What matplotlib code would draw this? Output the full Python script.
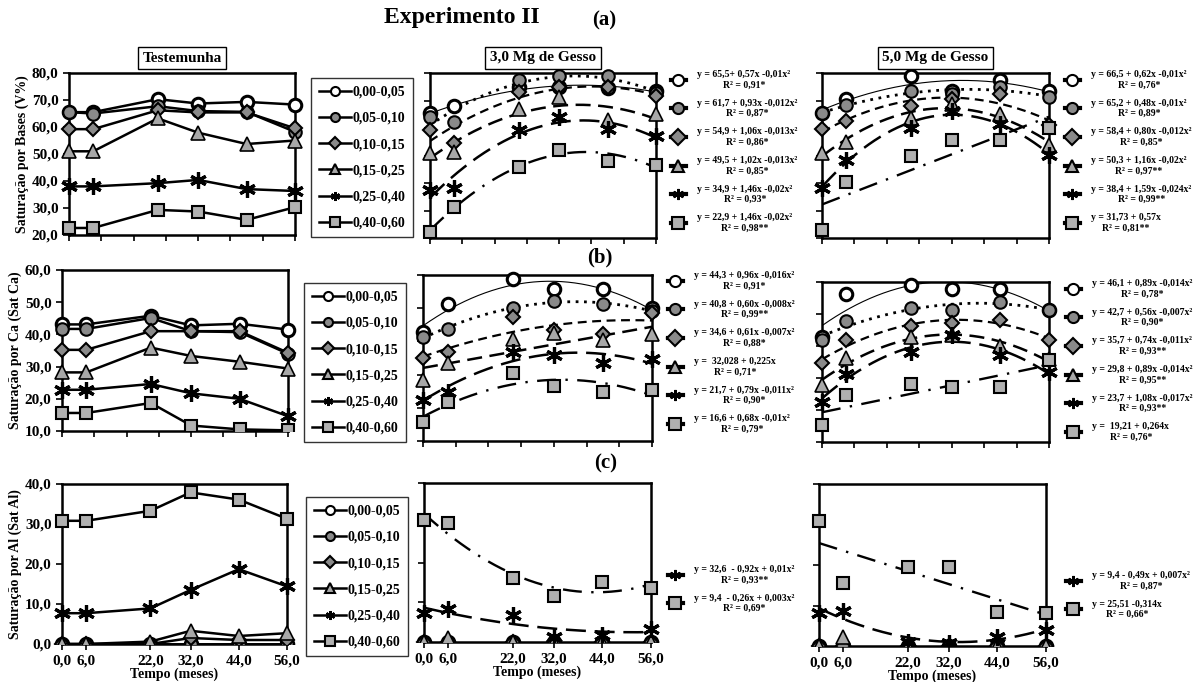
import numpy as np
import matplotlib
matplotlib.use('Agg')
import matplotlib.pyplot as plt
from matplotlib.lines import Line2D
from matplotlib.patches import Rectangle
from matplotlib.ticker import FuncFormatter, FixedLocator

plt.rcParams['font.family'] = ['Liberation Serif', 'DejaVu Serif']
plt.rcParams['font.weight'] = 'bold'

# ---------------- data ----------------
TIME = [0, 6, 22, 32, 44, 56]
LEVELS = ['0,00-0,05', '0,05-0,10', '0,10-0,15', '0,15-0,25', '0,25-0,40', '0,40-0,60']
PANEL_TITLES = ['Testemunha', '3,0 Mg de Gesso', '5,0 Mg de Gesso']
ROW_YLABELS = ['Saturação por Bases (V%)', 'Saturação por Ca (Sat Ca)', 'Saturação por Al (Sat Al)']
ROW_TAGS = ['(a)', '(b)', '(c)']
X_TICKS_LABELLED = [0, 6, 22, 32, 44, 56]
X_TICKS_PLAIN = [0, 8, 16, 24, 32, 40, 48, 56]

# Saturação por Bases (V%)
v_test = [[65.5, 65.5, 70.3, 68.7, 69.3, 68.3],
          [65.5, 65.0, 67.7, 65.9, 65.6, 58.2],
          [59.2, 59.2, 66.2, 65.4, 65.4, 59.5],
          [51.0, 51.0, 63.2, 57.9, 53.7, 55.0],
          [38.0, 38.0, 39.2, 40.4, 37.0, 36.3],
          [22.6, 22.6, 29.3, 28.7, 25.6, 30.3]]
v_g3 = [[65.3, 67.9, 75.0, 74.8, 74.6, 73.5],
        [64.0, 62.3, 77.3, 78.8, 78.8, 72.6],
        [59.3, 54.6, 73.0, 74.8, 74.8, 71.7],
        [50.9, 51.3, 66.9, 71.2, 62.9, 65.0],
        [37.4, 38.3, 59.2, 64.1, 59.6, 57.1],
        [22.3, 31.3, 46.0, 52.1, 48.1, 46.6]]
v_g5 = [[65.6, 70.6, 78.8, 73.6, 77.3, 73.4],
        [65.3, 68.5, 73.4, 72.4, 74.8, 71.2],
        [59.5, 62.6, 68.1, 70.6, 72.4, 61.0],
        [50.9, 55.0, 63.8, 68.7, 65.0, 54.0],
        [38.3, 48.5, 60.1, 66.3, 61.6, 50.3],
        [23.0, 40.5, 49.7, 55.5, 55.5, 60.1]]

# Saturação por Ca
ca_test = [[43.1, 43.1, 45.8, 42.8, 43.3, 41.5],
           [41.7, 41.7, 45.1, 41.0, 40.7, 34.0],
           [35.2, 35.2, 41.0, 41.0, 41.0, 34.3],
           [28.2, 28.2, 35.9, 33.3, 31.5, 29.4],
           [22.8, 22.8, 24.6, 21.7, 20.0, 14.6],
           [15.6, 15.6, 18.7, 11.7, 10.5, 10.2]]
ca_g3 = [[42.9, 51.4, 58.7, 55.7, 55.7, 50.0],
         [41.4, 43.6, 50.0, 52.3, 51.3, 49.2],
         [34.9, 36.9, 47.5, 43.5, 42.2, 48.5],
         [28.4, 33.6, 40.6, 42.4, 40.4, 42.1],
         [22.5, 24.9, 36.9, 35.9, 33.6, 34.6],
         [15.8, 21.8, 30.4, 26.6, 24.9, 25.4]]
ca_g5 = [[42.8, 56.1, 59.0, 57.9, 57.9, 51.4],
         [41.8, 47.8, 52.0, 51.4, 53.8, 51.4],
         [34.7, 41.8, 46.1, 47.2, 48.2, 42.0],
         [27.7, 36.4, 42.8, 43.3, 39.9, 36.0],
         [22.5, 31.4, 38.1, 43.3, 37.1, 31.9],
         [15.2, 24.6, 28.0, 27.2, 27.2, 35.7]]

# Saturação por Al
al_test = [[0, 0, 0, 0, 0, 0],
           [0, 0, 0, 0, 0, 0],
           [0, 0, 0, 1.5, 1.0, 1.0],
           [0, 0, 0.6, 3.3, 2.0, 2.7],
           [7.7, 7.7, 8.9, 13.5, 18.7, 14.4],
           [30.8, 30.8, 33.3, 37.9, 36.1, 31.3]]
al_g3 = [[0, 0, 0, 0, 0, 0],
         [0, 0, 0, 0, 0, 0],
         [0, 0, 0, 0, 0, 0],
         [0, 1.0, 0, 0, 0, 0],
         [7.4, 8.3, 6.8, 1.3, 1.8, 3.3],
         [30.6, 30.0, 16.2, 11.6, 15.2, 13.7]]
al_g5 = [[0, 0, 0, 0, 0, 0],
         [0, 0, 0, 0, 0, 0],
         [0, 0, 0, 0, 0, 0],
         [0, 2.3, 0, 0, 0, 0],
         [8.1, 8.7, 1.1, 0.7, 2.3, 4.0],
         [30.9, 15.5, 19.4, 19.4, 8.5, 8.2]]

# trend-line degree per series (None = no trend line)
deg_v_g3 = [2, 2, 2, 2, 2, 2]
deg_v_g5 = [2, 2, 2, 2, 2, 1]
deg_ca_g3 = [2, 2, 2, 1, 2, 2]
deg_ca_g5 = [2, 2, 2, 2, 2, 1]
deg_al_g3 = [None, None, None, None, 2, 2]
deg_al_g5 = [None, None, None, None, 2, 1]

eq_v_g3 = ['y = 65,5+ 0,57x -0,01x²\nR² = 0,91*',
           'y = 61,7 + 0,93x -0,012x²\nR² = 0,87*',
           'y = 54,9 + 1,06x -0,013x²\nR² = 0,86*',
           'y = 49,5 + 1,02x -0,013x²\nR² = 0,85*',
           'y = 34,9 + 1,46x -0,02x²\nR² = 0,93*',
           'y = 22,9 + 1,46x -0,02x²\nR² = 0,98**']
eq_v_g5 = ['y = 66,5 + 0,62x -0,01x²\nR² = 0,76*',
           'y = 65,2 + 0,48x -0,01x²\nR² = 0,89*',
           'y = 58,4 + 0,80x -0,012x²\nR² = 0,85*',
           'y = 50,3 + 1,16x -0,02x²\nR² = 0,97**',
           'y = 38,4 + 1,59x -0,024x²\nR² = 0,99**',
           'y = 31,73 + 0,57x\nR² = 0,81**']
eq_ca_g3 = ['y = 44,3 + 0,96x -0,016x²\nR² = 0,91*',
            'y = 40,8 + 0,60x -0,008x²\nR² = 0,99**',
            'y = 34,6 + 0,61x -0,007x²\nR² = 0,88*',
            'y =  32,028 + 0,225x\nR² = 0,71*',
            'y = 21,7 + 0,79x -0,011x²\nR² = 0,90*',
            'y = 16,6 + 0,68x -0,01x²\nR² = 0,79*']
eq_ca_g5 = ['y = 46,1 + 0,89x -0,014x²\nR² = 0,78*',
            'y = 42,7 + 0,56x -0,007x²\nR² = 0,90*',
            'y = 35,7 + 0,74x -0,011x²\nR² = 0,93**',
            'y = 29,8 + 0,89x -0,014x²\nR² = 0,95**',
            'y = 23,7 + 1,08x -0,017x²\nR² = 0,93**',
            'y =  19,21 + 0,264x\nR² = 0,76*']
eq_al_g3 = [None, None, None, None,
            'y = 32,6  - 0,92x + 0,01x²\nR² = 0,93**',
            'y = 9,4  - 0,26x + 0,003x²\nR² = 0,69*']
eq_al_g5 = [None, None, None, None,
            'y = 9,4 - 0,49x + 0,007x²\nR² = 0,87*',
            'y = 25,51 -0,314x\nR² = 0,66*']

YLIMS = [(20, 80), (10, 60), (0, 40)]

# ---------------- styles ----------------
MARK = [dict(marker='o', mfc='white', mec='black', ms=9, mew=2.2),
        dict(marker='o', mfc='#8a8a8a', mec='black', ms=9, mew=1.5),
        dict(marker='D', mfc='#8a8a8a', mec='black', ms=7.5, mew=1.5),
        dict(marker='^', mfc='#a8a8a8', mec='black', ms=10, mew=1.2),
        dict(marker=(6, 2, 0), mfc='black', mec='black', ms=12, mew=2.3),
        dict(marker='s', mfc='#b0b0b0', mec='black', ms=8.5, mew=1.5)]
FIT = [dict(ls='-', lw=0.8),
       dict(ls=(0, (1, 2)), lw=2.0),
       dict(ls=(0, (4, 2.5)), lw=1.6),
       dict(ls=(0, (6, 3)), lw=1.8),
       dict(ls=(0, (8, 3.5)), lw=1.8),
       dict(ls=(0, (8, 4, 1, 4)), lw=1.7)]

W, H = 1197, 682
fig = plt.figure(figsize=(W / 100, H / 100), dpi=100)


def add_ax(l, t, r, b):
    return fig.add_axes([l / W, 1 - b / H, (r - l) / W, (b - t) / H])


boxes = [[(69, 73, 295, 235), (430, 73, 656, 238), (822, 73, 1049, 238)],
         [(62, 270, 288, 431), (423, 275, 652, 441), (822, 282, 1049, 442)],
         [(62, 484, 287, 644), (424, 483, 651, 642), (819, 484, 1046, 646)]]

data = [[v_test, v_g3, v_g5], [ca_test, ca_g3, ca_g5], [al_test, al_g3, al_g5]]
degs = [[None, deg_v_g3, deg_v_g5], [None, deg_ca_g3, deg_ca_g5], [None, deg_al_g3, deg_al_g5]]
eqs = [[None, eq_v_g3, eq_v_g5], [None, eq_ca_g3, eq_ca_g5], [None, eq_al_g3, eq_al_g5]]

fmt = FuncFormatter(lambda v, p: f'{v:.1f}'.replace('.', ','))
xs = np.linspace(0, 56, 200)

legend_pos = [(311, 78), (304, 283), (306, 497)]
eq_pos = [[None, (671, 70), (1065, 70)],
          [None, (668, 271), (1066, 279)],
          [None, (668, 565), (1066, 571)]]

for r in range(3):
    for c in range(3):
        L, T, R, B = boxes[r][c]
        ax = add_ax(L, T, R, B)
        ax.set_xlim(0, 56)
        ax.set_ylim(*YLIMS[r])
        ax.yaxis.set_major_locator(FixedLocator(np.arange(YLIMS[r][0], YLIMS[r][1] + 0.1, 10)))
        ax.yaxis.set_major_formatter(fmt)
        if r == 2:
            ax.set_xticks(X_TICKS_LABELLED)
            ax.xaxis.set_major_formatter(fmt)
            ax.set_xlabel('Tempo (meses)', size=10, weight='bold', labelpad=0)
        else:
            ax.set_xticks(X_TICKS_PLAIN)
            ax.tick_params(labelbottom=False)
        ax.tick_params(direction='out', length=4, width=1.2, labelsize=11)
        if c == 0:
            ax.set_ylabel(ROW_YLABELS[r], size=10, weight='bold', labelpad=2)
        else:
            ax.tick_params(labelleft=False)
        for s in ax.spines.values():
            s.set_linewidth(1.8)
        for lab in ax.get_xticklabels() + ax.get_yticklabels():
            lab.set_fontweight('bold')

        # clip region: open on left/right/top, closed at the bottom axis
        clip = Rectangle(((L - 25) / W, 1 - B / H), (R - L + 50) / W, (B - T + 25) / H,
                         transform=fig.transFigure, visible=False)
        fig.add_artist(clip)

        series = data[r][c]
        for i, vals in enumerate(series):
            if c == 0:
                ln, = ax.plot(TIME, vals, color='black', lw=1.8, zorder=3, **MARK[i])
            else:
                ln, = ax.plot(TIME, vals, ls='none', zorder=3, **MARK[i])
                d = degs[r][c][i]
                if d is not None:
                    coef = np.polyfit(TIME, vals, d)
                    ax.plot(xs, np.polyval(coef, xs), color='black', zorder=2, **FIT[i])
            ln.set_clip_on(True)
            ln.set_clip_path(clip)

        if c == 0:
            handles = [Line2D([], [], color='black', lw=1.8,
                              **{**MARK[i], 'ms': 6.5, 'mew': 1.5}) for i in range(6)]
            leg = fig.legend(handles, LEVELS, loc='upper left',
                             bbox_to_anchor=(legend_pos[r][0] / W, 1 - legend_pos[r][1] / H),
                             frameon=True, fancybox=False, edgecolor='black',
                             prop=dict(size=10, weight='bold'), handlelength=2.3,
                             labelspacing=0.95, borderpad=0.55, handletextpad=0.15,
                             borderaxespad=0)
            leg.get_frame().set_linewidth(1.0)
        else:
            idx = [i for i in range(6) if eqs[r][c][i] is not None]
            handles = [Line2D([], [], color='black', lw=3,
                              **{**MARK[i], 'ms': 8, 'mew': 1.5}) for i in idx]
            labels = [eqs[r][c][i] for i in idx]
            leg = fig.legend(handles, labels, loc='upper left',
                             bbox_to_anchor=(eq_pos[r][c][0] / W, 1 - eq_pos[r][c][1] / H),
                             frameon=False, prop=dict(size=7, weight='bold'),
                             handlelength=1.5, labelspacing=0.95, handletextpad=1.2,
                             borderaxespad=0, borderpad=0)
            for t in leg.get_texts():
                t.set_multialignment('center')

        if r == 0:
            cx = (L + R) / 2
            fig.text(cx / W, 1 - 58 / H, PANEL_TITLES[c], ha='center', va='center',
                     size=11, weight='bold',
                     bbox=dict(boxstyle='square,pad=0.3', fc='white', ec='black', lw=1.0))

fig.text(462 / W, 1 - 18 / H, 'Experimento II', ha='center', va='center', size=17, weight='bold')
fig.text(604 / W, 1 - 20 / H, ROW_TAGS[0], ha='center', va='center', size=15, weight='bold')
fig.text(600 / W, 1 - 257 / H, ROW_TAGS[1], ha='center', va='center', size=15, weight='bold')
fig.text(606 / W, 1 - 463 / H, ROW_TAGS[2], ha='center', va='center', size=15, weight='bold')

fig.savefig('out.png', dpi=100)
